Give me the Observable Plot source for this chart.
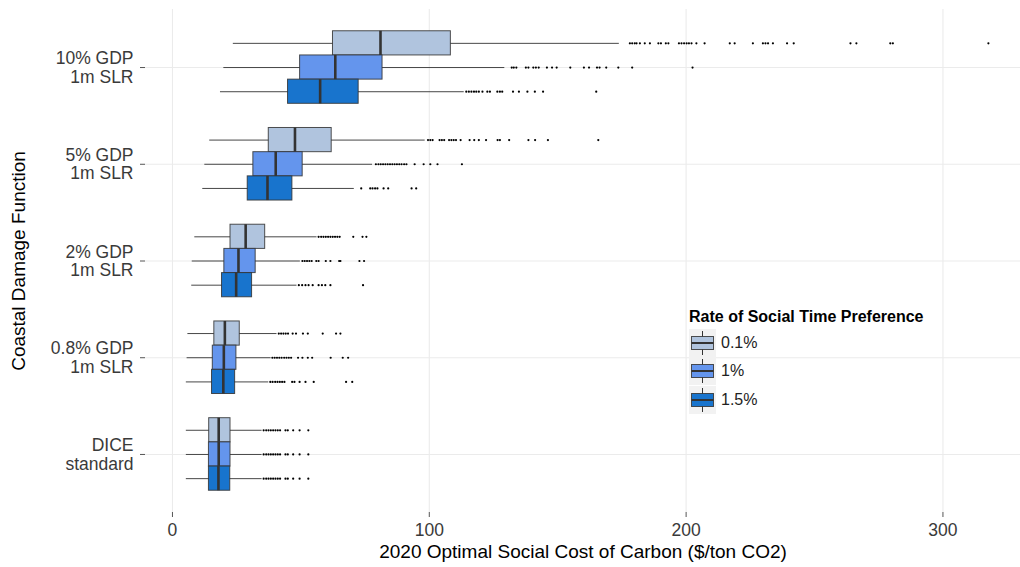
<!DOCTYPE html>
<html>
<head>
<meta charset="utf-8">
<script src="https://cdn.jsdelivr.net/npm/d3@7"></script>
<script src="https://cdn.jsdelivr.net/npm/@observablehq/plot@0.6"></script>
<style>
  body { margin: 0; background: #fff; font-family: "Liberation Sans", Arial, sans-serif; }
  #chart { position: relative; width: 1020px; height: 567px; overflow: hidden; }
  #chart svg { display: block; }
  .legend { position: absolute; left: 689px; top: 306px; color: #000; }
  .legend-title { font-weight: bold; font-size: 16px; line-height: 21px; white-space: nowrap; margin-bottom: 2px; }
  .legend-row { display: flex; align-items: center; height: 28.3px; }
  .legend-row svg { display: block; margin-right: 5px; }
  .legend-row span { font-size: 16px; color: #222; }
</style>
</head>
<body>
<div id="chart"></div>
<script>
// Coastal damage functions, bottom to top on the y axis
const damageFunctions = ["DICE\nstandard", "0.8% GDP\n1m SLR", "2% GDP\n1m SLR", "5% GDP\n1m SLR", "10% GDP\n1m SLR"];
// Rates of social time preference
const rates = ["0.1%", "1%", "1.5%"];
const xTicks = [0, 100, 200, 300];

// Box summaries: [lower whisker, Q1, median, Q3, upper whisker], one per damage function
const stats01 = [
  [5.4, 14.3, 18.0, 22.6, 34.9],
  [6.0, 16.3, 20.4, 26.2, 40.7],
  [8.7, 22.6, 28.5, 36.1, 56.3],
  [14.5, 37.5, 47.7, 62.0, 98.4],
  [23.7, 62.5, 81.0, 108.4, 174.0]
];
const stats1 = [
  [5.4, 14.2, 18.0, 22.6, 34.9],
  [5.7, 15.7, 20.0, 24.9, 38.4],
  [7.7, 20.2, 25.7, 32.4, 49.8],
  [12.6, 31.5, 40.2, 50.7, 77.9],
  [20.0, 49.7, 63.4, 81.8, 129.4]
];
const stats15 = [
  [5.4, 14.2, 17.9, 22.5, 34.9],
  [5.4, 15.4, 19.8, 24.4, 37.5],
  [7.5, 19.3, 24.8, 31.0, 48.5],
  [11.8, 29.3, 37.0, 46.7, 70.8],
  [18.7, 45.0, 57.5, 72.5, 113.6]
];

// Outlying simulation results beyond the whiskers
const diceOutliers = [35.5, 36.5, 37.4, 38.3, 39.2, 40.1, 41.0, 41.9, 44.0, 44.9, 47.0, 49.5, 52.9];
const outliers01 = [
  diceOutliers,
  [41.4, 42.3, 43.2, 44.1, 45.0, 46.8, 48.1, 50.8, 52.7, 58.5, 63.7, 65.4],
  [56.9, 57.9, 58.8, 59.7, 60.6, 61.5, 62.4, 63.3, 64.2, 65.1, 70.4, 74.0, 75.5],
  [99.5, 100.4, 101.3, 104.0, 104.9, 105.8, 107.7, 108.6, 109.5, 110.4, 112.2, 115.7, 117.5, 119.3, 122.1, 126.6, 127.5, 131.1, 138.6, 141.2, 146.2, 165.8],
  [178.1, 179.0, 180.0, 180.7, 182.0, 183.9, 185.9, 189.2, 190.2, 192.1, 193.1, 197.2, 198.2, 199.2, 200.2, 201.1, 202.1, 204.0, 207.2, 217.0, 218.9, 226.0, 229.9, 230.9, 231.9, 233.8, 239.3, 241.9, 264.0, 266.3, 279.5, 280.5, 317.7]
];
const outliers1 = [
  diceOutliers,
  [38.9, 39.8, 40.7, 41.6, 42.5, 43.5, 44.4, 45.3, 46.2, 48.9, 50.6, 52.7, 54.4, 61.6, 66.3, 68.4],
  [50.6, 51.5, 52.4, 53.3, 54.2, 56.0, 56.9, 59.7, 61.5, 64.9, 65.4, 72.8, 74.6],
  [79.2, 80.2, 81.1, 82.0, 82.9, 83.8, 84.7, 85.6, 86.5, 87.4, 88.3, 89.2, 90.2, 91.1, 94.3, 97.8, 100.4, 103.2, 112.7],
  [132.1, 132.9, 133.9, 137.6, 138.6, 140.5, 141.5, 142.6, 145.8, 147.8, 149.6, 154.9, 160.2, 162.2, 165.3, 166.3, 168.9, 173.6, 179.0, 202.5]
];
const outliers15 = [
  diceOutliers,
  [38.1, 39.0, 40.0, 40.9, 41.8, 42.7, 43.6, 46.6, 47.5, 49.5, 51.8, 55.0, 67.6, 70.0],
  [49.2, 50.5, 51.8, 53.0, 54.6, 56.9, 58.2, 59.5, 61.5, 74.2],
  [73.5, 77.0, 77.9, 78.9, 79.8, 82.2, 84.0, 93.1, 94.9],
  [114.4, 115.4, 116.4, 117.4, 118.3, 119.3, 120.7, 122.6, 123.6, 126.5, 127.5, 128.4, 132.6, 134.9, 138.2, 141.1, 144.3, 165.0]
];

const palette = ["#B0C4DE", "#6495ED", "#1874CD"];
const statsByRate = [stats01, stats1, stats15];
const outliersByRate = [outliers01, outliers1, outliers15];

// Boxes are dodged within each damage function: first rate on top
const boxWidth = 0.25;
const dodge = r => (1 - r) * boxWidth;

const boxes = [];
const points = [];
rates.forEach((rate, r) => {
  statsByRate[r].forEach((s, g) => {
    boxes.push({rate, pos: g + 1 + dodge(r), lo: s[0], q1: s[1], median: s[2], q3: s[3], hi: s[4]});
  });
  outliersByRate[r].forEach((vals, g) => {
    vals.forEach(v => points.push({rate, pos: g + 1 + dodge(r), value: v}));
  });
});

const ink = "#333333";

const chart = Plot.plot({
  width: 1020,
  height: 567,
  marginLeft: 145,
  marginRight: 0,
  marginTop: 9,
  marginBottom: 55,
  x: {domain: [-10.5, 330.2]},
  y: {domain: [0.4, 5.6]},
  color: {domain: rates, range: palette},
  style: {fontFamily: "'Liberation Sans', Arial, sans-serif", fontSize: "17.5px", color: "#3a3a3a", background: "#fff", overflow: "visible"},
  marks: [
    Plot.gridX(xTicks, {stroke: "#EBEBEB", strokeOpacity: 1, strokeWidth: 1.1}),
    Plot.gridY(d3.range(1, damageFunctions.length + 1), {stroke: "#EBEBEB", strokeOpacity: 1, strokeWidth: 1.1}),
    Plot.axisX(xTicks, {tickSize: 5, tickPadding: 6, fontSize: 17.5, stroke: "#555", label: null}),
    Plot.axisY(d3.range(1, damageFunctions.length + 1), {
      tickFormat: i => damageFunctions[i - 1],
      tickSize: 5, tickPadding: 7, fontSize: 17.5, lineHeight: 1.05, stroke: "#555", label: null
    }),
    Plot.text(["2020 Optimal Social Cost of Carbon ($/ton CO2)"], {
      frameAnchor: "bottom", dy: 39, lineAnchor: "middle", textAnchor: "middle", fontSize: 19, fill: "#000"
    }),
    Plot.text(["Coastal Damage Function"], {
      frameAnchor: "left", dx: -127, rotate: -90, lineAnchor: "middle", textAnchor: "middle", fontSize: 19, fill: "#000"
    }),
    // whiskers
    Plot.ruleY(boxes, {y: "pos", x1: "lo", x2: "hi", stroke: ink, strokeWidth: 1, strokeOpacity: 0.9}),
    // interquartile boxes
    Plot.rect(boxes, {
      x1: "q1", x2: "q3",
      y1: d => d.pos - boxWidth / 2, y2: d => d.pos + boxWidth / 2,
      fill: "rate", stroke: ink, strokeWidth: 1, strokeOpacity: 0.85
    }),
    // medians
    Plot.ruleX(boxes, {
      x: "median", y1: d => d.pos - boxWidth / 2, y2: d => d.pos + boxWidth / 2,
      stroke: ink, strokeWidth: 2.6
    }),
    // outliers
    Plot.dot(points, {x: "value", y: "pos", r: 1.1, fill: "#000", stroke: null})
  ]
});

const container = document.getElementById("chart");
container.appendChild(chart);

// Legend with boxplot glyphs
const color = chart.scale("color");
const legend = d3.select(container).append("div").attr("class", "legend");
legend.append("div").attr("class", "legend-title").text("Rate of Social Time Preference");
rates.forEach(rate => {
  const row = legend.append("div").attr("class", "legend-row");
  const svg = row.append("svg").attr("width", 27).attr("height", 28);
  svg.append("rect").attr("width", 27).attr("height", 28).attr("fill", "#F2F2F2");
  svg.append("line").attr("x1", 13.5).attr("x2", 13.5).attr("y1", 2).attr("y2", 26).attr("stroke", ink);
  svg.append("rect").attr("x", 2.5).attr("y", 7.5).attr("width", 22).attr("height", 13)
    .attr("fill", color.apply(rate)).attr("stroke", ink).attr("stroke-opacity", 0.85);
  svg.append("line").attr("x1", 2.5).attr("x2", 24.5).attr("y1", 14).attr("y2", 14).attr("stroke", ink).attr("stroke-width", 2);
  row.append("span").text(rate);
});
</script>
</body>
</html>
